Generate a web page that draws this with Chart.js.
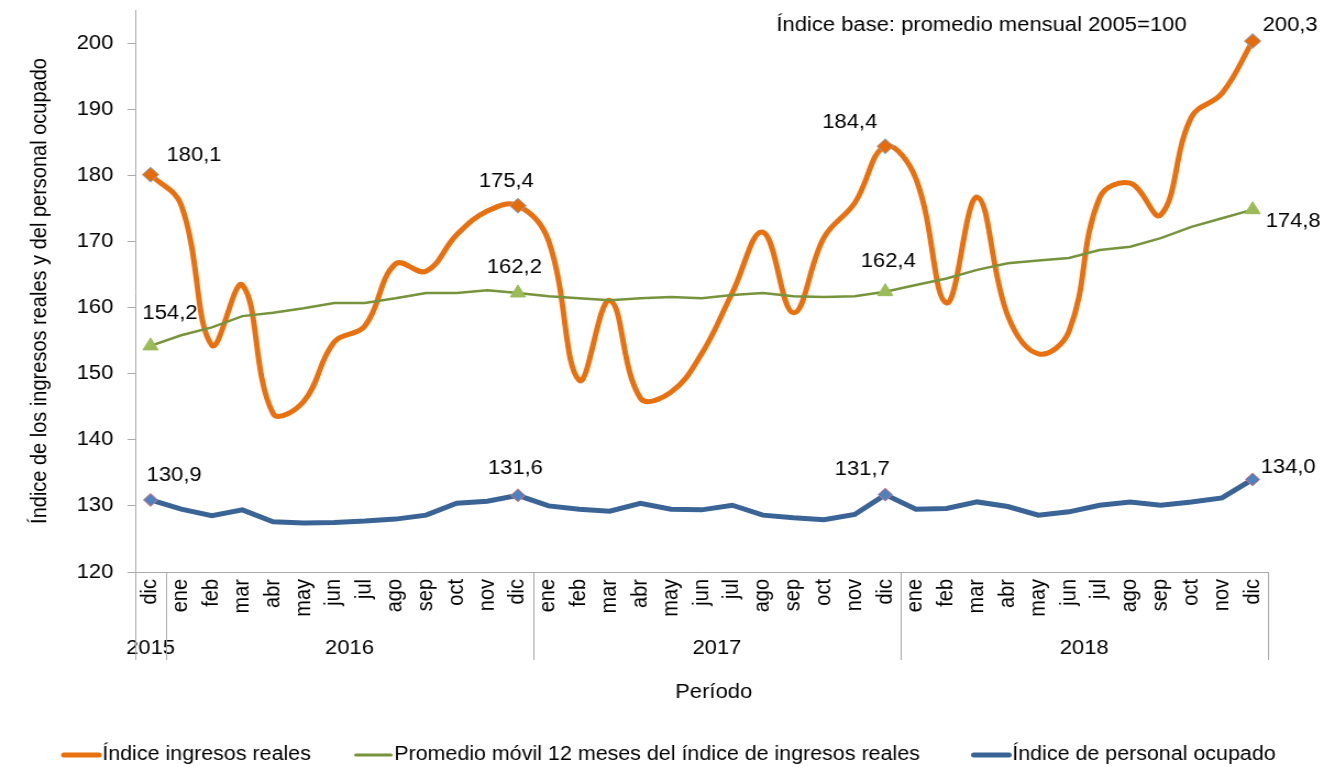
<!DOCTYPE html>
<html>
<head>
<meta charset="utf-8">
<script src="https://cdn.jsdelivr.net/npm/chart.js@4.4.1/dist/chart.umd.min.js"></script>
<style>
html,body{margin:0;padding:0;background:#fff;overflow:hidden}
#c{display:block;width:1335px !important;height:767px !important}
</style>
</head>
<body>
<canvas id="c" width="1214" height="767" style="width:1335px;height:767px"></canvas>
<script>
// ---- data ----
const months = ['dic',
  'ene','feb','mar','abr','may','jun','jul','ago','sep','oct','nov','dic',
  'ene','feb','mar','abr','may','jun','jul','ago','sep','oct','nov','dic',
  'ene','feb','mar','abr','may','jun','jul','ago','sep','oct','nov','dic'];
const years = ['2015', '2016', '2017', '2018'];
const monthsInYear = [1, 12, 12, 12];

const ingresosReales = [180.1,
  175.5, 154.3, 163.4, 144.0, 145.8, 154.8, 157.2, 166.6, 165.5, 171.0, 174.6, 175.4,
  170.1, 149.0, 161.1, 146.3, 147.2, 153.0, 162.2, 171.4, 159.2, 170.6, 175.8, 184.4,
  179.5, 160.7, 176.7, 158.8, 153.0, 156.4, 176.6, 178.8, 174.0, 188.8, 192.4, 200.3];
const promedioMovil = [154.2,
  155.8, 157.0, 158.7, 159.2, 159.9, 160.7, 160.7, 161.4, 162.2, 162.2, 162.6, 162.2,
  161.7, 161.4, 161.1, 161.4, 161.6, 161.4, 161.9, 162.2, 161.7, 161.6, 161.7, 162.4,
  163.4, 164.4, 165.7, 166.7, 167.1, 167.5, 168.7, 169.2, 170.5, 172.2, 173.5, 174.8];
const personalOcupado = [130.9,
  129.5, 128.5, 129.4, 127.6, 127.4, 127.5, 127.7, 128.0, 128.6, 130.4, 130.7, 131.6,
  130.0, 129.5, 129.2, 130.4, 129.5, 129.4, 130.1, 128.6, 128.2, 127.9, 128.7, 131.7,
  129.5, 129.6, 130.6, 129.9, 128.6, 129.1, 130.1, 130.6, 130.1, 130.6, 131.2, 134.0];
const yMin = 120, yMax = 205, yStep = 10;

const seriesNames = ['Índice ingresos reales',
  'Promedio móvil 12 meses del índice de ingresos reales',
  'Índice de personal ocupado'];
const yTitle = 'Índice de los ingresos reales y del personal ocupado';
const xTitle = 'Período';
const note = 'Índice base: promedio mensual 2005=100';

// ---- styling ----
const FONT = "'Liberation Sans', Arial, Helvetica, sans-serif";
Chart.defaults.font.family = FONT;
Chart.defaults.color = '#000';
const AXIS = '#ABABAB';
const isDic = c => c.dataIndex % 12 === 0;

const fmt = v => v.toFixed(1).replace('.', ',');

// label placement: [dataset, point, align, dx, dy]
const labelSpots = [
  [0, 0, 'left', 14.5, -19], [0, 12, 'center', -10.5, -24], [0, 24, 'center', -32.3, -24], [0, 36, 'left', 9.1, -16],
  [1, 0, 'left', -7.3, -32], [1, 12, 'center', -3.2, -25], [1, 24, 'center', 2.7, -30], [1, 36, 'left', 11.8, 12],
  [2, 0, 'left', -3.6, -24], [2, 12, 'center', -2.3, -27], [2, 24, 'center', -20.9, -25], [2, 36, 'left', 7.3, -12]
];

const decor = {
  id: 'decor',
  afterDraw(chart) {
    const {ctx} = chart;
    const x = chart.scales.x;
    const half = (x.getPixelForValue(1) - x.getPixelForValue(0)) / 2;
    const axisY = chart.chartArea.bottom;
    ctx.save();
    // year groups
    ctx.strokeStyle = AXIS; ctx.lineWidth = 1;
    ctx.font = `20px ${FONT}`; ctx.fillStyle = '#000';
    ctx.textAlign = 'center'; ctx.textBaseline = 'middle';
    const bounds = [x.getPixelForValue(0) - half];
    let start = 0;
    years.forEach((yr, k) => {
      const end = start + monthsInYear[k] - 1;
      bounds.push(x.getPixelForValue(end) + half);
      ctx.fillText(yr, (x.getPixelForValue(start) + x.getPixelForValue(end)) / 2, 648);
      start = end + 1;
    });
    bounds.forEach(bx => {
      const px = Math.round(bx) + 0.5;
      ctx.beginPath(); ctx.moveTo(px, axisY); ctx.lineTo(px, 660); ctx.stroke();
    });
    // x title
    ctx.fillText(xTitle, 649, 692);
    // note
    ctx.textAlign = 'left';
    ctx.fillText(note, 706, 25);
    // data labels
    labelSpots.forEach(([d, i, align, dx, dy]) => {
      const pt = chart.getDatasetMeta(d).data[i];
      const v = chart.data.datasets[d].data[i];
      ctx.textAlign = align;
      ctx.fillText(fmt(v), pt.x + dx, pt.y + dy);
    });
    // legend
    const legX = [58, 323.5, 885.5];
    ctx.font = `19.5px ${FONT}`;
    ctx.textAlign = 'left';
    chart.data.datasets.forEach((ds, k) => {
      ctx.strokeStyle = ds.borderColor;
      ctx.lineWidth = ds.legendWidth;
      ctx.lineCap = 'round';
      ctx.beginPath(); ctx.moveTo(legX[k], 755); ctx.lineTo(legX[k] + 32, 755); ctx.stroke();
      ctx.fillStyle = '#000';
      ctx.fillText(ds.label, legX[k] + 35, 755);
    });
    ctx.restore();
  }
};

new Chart(document.getElementById('c'), {
  type: 'line',
  data: {
    labels: months,
    datasets: [
      {
        label: seriesNames[0], data: ingresosReales, order: 3,
        borderColor: '#E8700E', borderWidth: 5, tension: 0.4, legendWidth: 5,
        pointStyle: 'rectRot', pointRadius: c => isDic(c) ? 7.5 : 0,
        pointBackgroundColor: '#E46C0A', pointBorderColor: '#8CA6CF', pointBorderWidth: 1
      },
      {
        label: seriesNames[1], data: promedioMovil, order: 2,
        borderColor: '#77933C', borderWidth: 2.5, tension: 0, legendWidth: 3,
        pointStyle: 'triangle', pointRadius: c => isDic(c) ? 8 : 0,
        pointBackgroundColor: '#9BBB59', pointBorderColor: '#9BBB59', pointBorderWidth: 1
      },
      {
        label: seriesNames[2], data: personalOcupado, order: 1,
        borderColor: '#3A6496', borderWidth: 5, tension: 0, legendWidth: 5,
        pointStyle: 'rectRot', pointRadius: c => isDic(c) ? 6.5 : 0,
        pointBackgroundColor: '#4F81BD', pointBorderColor: '#D9787A', pointBorderWidth: 1
      }
    ]
  },
  options: {
    responsive: false,
    devicePixelRatio: 1,
    animation: false,
    events: [],
    layout: {padding: {top: 10, right: 61, left: 0, bottom: 0}},
    plugins: {legend: {display: false}, tooltip: {enabled: false}},
    scales: {
      x: {
        type: 'category', offset: true,
        grid: {display: false, drawTicks: false},
        border: {display: true, color: AXIS, width: 1},
        ticks: {autoSkip: false, maxRotation: 90, minRotation: 90, padding: 7, color: '#000', font: {size: 20}},
        afterFit(s) { s.height = 195; s.paddingLeft = 0; s.paddingRight = 0; }
      },
      y: {
        min: yMin, max: yMax,
        ticks: {stepSize: yStep, includeBounds: false, padding: 13, color: '#000', font: {size: 20},
          callback: v => String(v)},
        grid: {drawOnChartArea: false, drawTicks: true, tickLength: 7, color: AXIS},
        border: {display: true, color: AXIS, width: 1},
        title: {display: true, text: yTitle, color: '#000', font: {size: 20}, padding: {top: 24.4, bottom: 0}},
        afterFit(s) { s.width = 123; s.paddingTop = 0; s.paddingBottom = 0; }
      }
    }
  },
  plugins: [decor]
});
</script>
</body>
</html>
